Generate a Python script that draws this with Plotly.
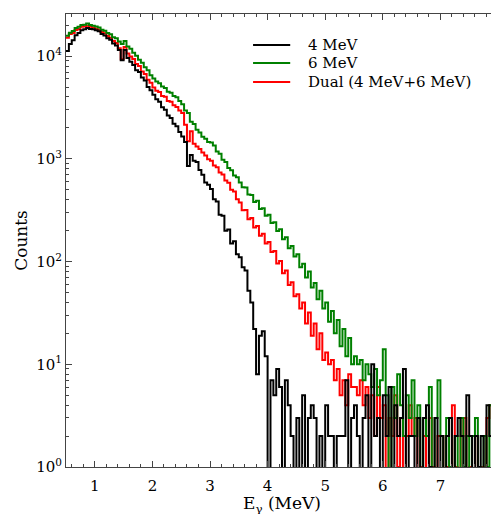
import plotly.graph_objects as go

# Energy bins: left edges from 0.50 MeV in 0.05 MeV steps (150 bins)
BIN_START = 0.5
BIN_WIDTH = 0.05

counts_6mev = [
    15800, 16900, 17600, 18800, 19300, 20100, 20200, 20800, 20100, 19800,
    19400, 19000, 18100, 17700, 16800, 16300, 15300, 14900, 13900, 13100,
    14000, 12400, 11800, 10800, 10100, 9200, 8600, 7800, 7300, 6500,
    6050, 5650, 5450, 5050, 4900, 4500, 4400, 4100, 3980, 3650,
    3400, 2950, 2800, 2300, 2180, 1920, 1800, 1640, 1570, 1460,
    1440, 1350, 1180, 1120, 980, 930, 815, 775, 690, 660,
    590, 530, 525, 450, 445, 380, 390, 325, 330, 280,
    285, 238, 242, 198, 206, 165, 172, 135, 142, 112,
    118, 88, 95, 70, 80, 56, 62, 43, 52, 35,
    40, 26, 33, 20, 27, 15, 22, 12, 18, 10,
    12, 10, 11, 7, 10, 8, 6, 9, 5, 7,
    14, 5, 0, 6, 3, 8, 4, 2, 5, 3,
    7, 2, 4, 0, 3, 2, 6, 0, 3, 7,
    2, 0, 3, 1, 0, 2, 0, 3, 1, 2,
    0, 2, 3, 1, 0, 2, 1, 4, 0, 3,
]

counts_dual = [
    15100, 16400, 16800, 18000, 18400, 19300, 19400, 19700, 19300, 19000,
    18500, 18100, 17200, 16700, 15700, 15100, 14000, 13400, 11900, 9300,
    12300, 10600, 9900, 9400, 8400, 8000, 7100, 6700, 5900, 5500,
    4950, 4600, 4480, 4100, 4020, 3650, 3600, 3320, 3200, 2950,
    2800, 2150, 1480, 1860, 1400, 1320, 1250, 1150, 1080, 990,
    960, 860, 830, 735, 705, 615, 585, 500, 480, 405,
    375, 315, 318, 258, 265, 215, 222, 178, 186, 150,
    155, 124, 127, 96, 101, 77, 82, 59, 63, 46,
    48, 35, 40, 25, 32, 19, 25, 14, 20, 11,
    13, 10, 11, 7, 9, 5, 7, 4, 8, 6,
    6, 5, 7, 4, 6, 3, 5, 2, 6, 3,
    4, 0, 3, 2, 5, 1, 3, 0, 2, 4,
    2, 3, 0, 1, 2, 0, 3, 1, 0, 2,
    2, 0, 1, 0, 4, 1, 0, 2, 3, 0,
    1, 0, 2, 0, 1, 0, 3, 4, 0, 2,
]

counts_4mev = [
    11200, 13100, 14300, 16000, 16800, 17900, 18300, 18800, 18400, 18300,
    17900, 17500, 16400, 15900, 14900, 14400, 13300, 12700, 11500, 9100,
    11500, 9600, 8800, 8200, 7300, 7000, 6200, 5800, 5000, 4650,
    4200, 3800, 3600, 3180, 3000, 2640, 2500, 2200, 2080, 1820,
    1650, 1460, 850, 1090, 960, 930, 780, 700, 590, 560,
    510, 405, 385, 285, 280, 200, 205, 150, 158, 118,
    110, 88, 82, 52, 40, 22, 8, 19, 21, 12,
    0, 7, 5, 9, 6, 0, 7, 4, 2, 0,
    3, 0, 5, 0, 3, 4, 3, 0, 2, 0,
    4, 2, 2, 0, 2, 2, 2, 7, 0, 3,
    4, 2, 0, 3, 5, 0, 10, 2, 3, 0,
    5, 2, 6, 0, 4, 2, 3, 9, 0, 2,
    2, 0, 3, 0, 3, 4, 1, 0, 3, 0,
    2, 0, 2, 3, 0, 2, 3, 2, 0, 5,
    2, 0, 2, 1, 2, 0, 4, 2, 0, 3,
]

x_ticks = [1, 2, 3, 4, 5, 6, 7, 8]
y_ticks = [1, 10, 100, 1000, 10000]
y_ticktext = ["10<sup>0</sup>", "10<sup>1</sup>", "10<sup>2</sup>", "10<sup>3</sup>", "10<sup>4</sup>"]

series_names = ["4 MeV", "6 MeV", "Dual (4 MeV+6 MeV)"]
series_colors = ["#000000", "#008000", "#ff0000"]
series_values = [counts_4mev, counts_6mev, counts_dual]
draw_order = [2, 1, 0]  # red underneath, black on top

n = len(counts_4mev)
edges = [round(BIN_START + BIN_WIDTH * i, 4) for i in range(n + 1)]

font_family = "DejaVu Serif"
fig = go.Figure()
for idx in draw_order:
    vals = series_values[idx]
    # zero counts fall below the log axis (clipped), like matplotlib
    yv = [v if v > 0 else 1e-3 for v in vals] + [vals[-1] if vals[-1] > 0 else 1e-3]
    fig.add_trace(go.Scatter(
        x=edges, y=yv, mode="lines", name=series_names[idx],
        line=dict(color=series_colors[idx], width=2, shape="hv"),
        showlegend=False,
    ))

# legend drawn as line samples + text, top right inside the axes
leg_x0, leg_x1, leg_tx = 0.433, 0.519, 0.556
leg_y = [0.9316, 0.8918, 0.8499]
for i, (name, color) in enumerate(zip(series_names, series_colors)):
    fig.add_shape(type="line", xref="paper", yref="paper",
                  x0=leg_x0, x1=leg_x1, y0=leg_y[i], y1=leg_y[i],
                  line=dict(color=color, width=2))
    fig.add_annotation(xref="paper", yref="paper", x=leg_tx, y=leg_y[i],
                       xanchor="left", yanchor="middle", showarrow=False,
                       text=name, font=dict(size=15, family=font_family, color="black"))

# x-axis title, placed just above the bottom edge as in the reference
fig.add_annotation(xref="paper", yref="paper", x=0.5, y=-0.082,
                   xanchor="center", yanchor="middle", showarrow=False,
                   text="E<sub>γ</sub> (MeV)", font=dict(size=17, family=font_family, color="black"))

x_minor = [round(0.6 + 0.2 * i, 2) for i in range(38)]
x_minor = [v for v in x_minor if abs(v - round(v)) > 1e-6]
y_minor = [k * 10 ** d for d in range(5) for k in range(2, 10) if k * 10 ** d < 26000]

# the page body adds an 8px offset; figure sized so the axes land where the reference has them
fig.update_layout(
    width=491, height=506,
    margin=dict(l=58, r=1, t=6, b=47),
    paper_bgcolor="white", plot_bgcolor="white",
    font=dict(family=font_family, size=16, color="black"),
    showlegend=False,
    xaxis=dict(
        range=[0.5, 8.0], tickvals=x_ticks, ticks="inside", ticklen=6, tickwidth=1,
        tickcolor="#444", showline=True, linecolor="#444", linewidth=1, mirror="allticks",
        showgrid=False, zeroline=False, automargin=False, ticklabelstandoff=5,
        ticklabeloverflow="allow",
        minor=dict(tickvals=x_minor, ticks="inside", ticklen=3, tickcolor="#444", showgrid=False),
        tickfont=dict(size=15),
    ),
    yaxis=dict(
        type="log", range=[0, 4.41], tickvals=y_ticks, ticktext=y_ticktext,
        ticks="inside", ticklen=6, tickwidth=1, tickcolor="#444",
        showline=True, linecolor="#444", linewidth=1, mirror="allticks",
        showgrid=False, zeroline=False, automargin=False,
        minor=dict(tickvals=y_minor, ticks="inside", ticklen=3, tickcolor="#444", showgrid=False),
        title=dict(text="Counts", font=dict(size=17), standoff=4),
        tickfont=dict(size=15),
    ),
)

fig.write_html("out.html")
